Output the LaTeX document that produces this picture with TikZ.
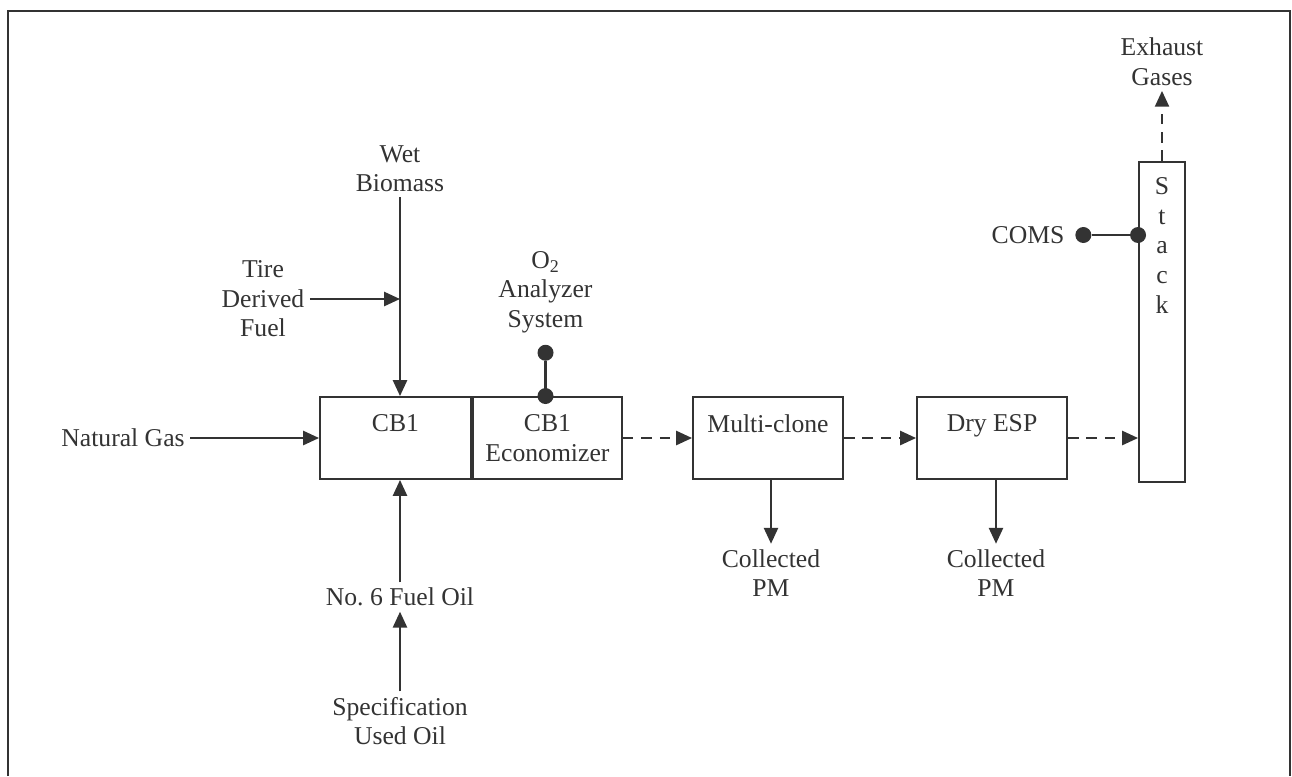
\documentclass[tikz,border=0pt]{standalone}
\usepackage{fontspec}
\setmainfont{Liberation Serif}
\usepackage{tikz}
\usetikzlibrary{arrows.meta,positioning,calc}
\usepackage{xcolor}
\definecolor{inkgray}{HTML}{333333}
\tikzset{
  procbox/.style={
    draw=inkgray,
    text=inkgray,
    line width=1.1pt,
    minimum height=1.64cm,
    align=center,
    inner sep=0pt
  },
  flowlabel/.style={
    align=center,
    text=inkgray,
    inner sep=3pt
  },
  arrow/.style={
    -{Triangle[length=9pt,width=8pt]},
    line width=1.2pt,
    draw=inkgray
  },
  dasharrow/.style={
    arrow,
    dash pattern=on 6pt off 4.5pt
  },
  probedot/.style={
    circle,
    fill=inkgray,
    minimum size=0.32cm,
    inner sep=0pt
  }
}

\begin{document}
\begin{tikzpicture}[font=\fontsize{14.6}{16.8}\selectfont]
\useasboundingbox (0,0) rectangle (25.84,-15.52);
% frame
\draw[inkgray, line width=1.2pt] (0.16,-15.52) -- (0.16,-0.22) -- (25.8,-0.22) -- (25.8,-15.52);

% process train
\node[procbox, minimum width=3.02cm] (cb1) at (7.91,-8.76) {CB1\\~};
\node[procbox, minimum width=2.98cm, right=0pt of cb1] (econ) {CB1\\Economizer};
\node[procbox, minimum width=3cm] (multi) at (15.36,-8.76) {Multi-clone\\~};
\node[procbox, minimum width=3cm] (esp) at (19.84,-8.76) {Dry ESP\\~};
\node[procbox, minimum width=0.92cm, minimum height=6.4cm,
  label={[anchor=north, align=center, text=inkgray, yshift=-0.2cm, font=\fontsize{14.6}{17}\selectfont]north:S\\t\\a\\c\\k}] (stack) at (23.24,-6.44) {};

% inputs
\node[flowlabel] (natgas) at (2.46,-8.76) {Natural Gas};
\node[flowlabel] (wetbio) at (8.0,-3.37) {Wet\\Biomass};
\node[flowlabel] (tirefuel) at (5.26,-5.98) {Tire\\Derived\\Fuel};
\node[flowlabel] (fueloil) at (8.0,-11.94) {No.\ 6 Fuel Oil};
\node[flowlabel] (specoil) at (8.0,-14.42) {Specification\\Used Oil};

% outputs and monitors
\node[flowlabel] (o2sys) at (10.91,-5.84) {O\textsubscript{2}\\Analyzer\\System};
\node[probedot, below=0.12cm of o2sys] (o2dot) {};
\node[flowlabel] (coms) at (20.56,-4.70) {COMS};
\node[probedot, right=0.1cm of coms] (comsdot) {};
\node[flowlabel] (exhaust) at (23.24,-1.23) {Exhaust\\Gases};
\node[flowlabel] (pm1) at (15.42,-11.46) {Collected\\PM};
\node[flowlabel] (pm2) at (19.92,-11.46) {Collected\\PM};

\draw[arrow] (natgas) -- (cb1);
\draw[arrow] (wetbio.south) -- (wetbio.south |- cb1.north);
\draw[arrow] (tirefuel.east) -- (wetbio.south |- tirefuel.east);
\draw[arrow] (fueloil.north) -- (fueloil.north |- cb1.south);
\draw[arrow] (specoil.north) -- (fueloil.south);
\draw[inkgray, line width=1.2pt] (o2dot) -- (o2dot |- econ.north) node[probedot] {};
\draw[inkgray, line width=1.2pt] (comsdot) -- (comsdot -| stack.west) node[probedot] {};

\draw[dasharrow] (econ) -- (multi);
\draw[dasharrow] (multi) -- (esp);
\draw[dasharrow] (esp) -- (esp -| stack.west);
\draw[dasharrow] (stack.north) -- (exhaust.south);
\draw[arrow] (pm1.north |- multi.south) -- (pm1.north);
\draw[arrow] (pm2.north |- esp.south) -- (pm2.north);
\end{tikzpicture}
\end{document}
